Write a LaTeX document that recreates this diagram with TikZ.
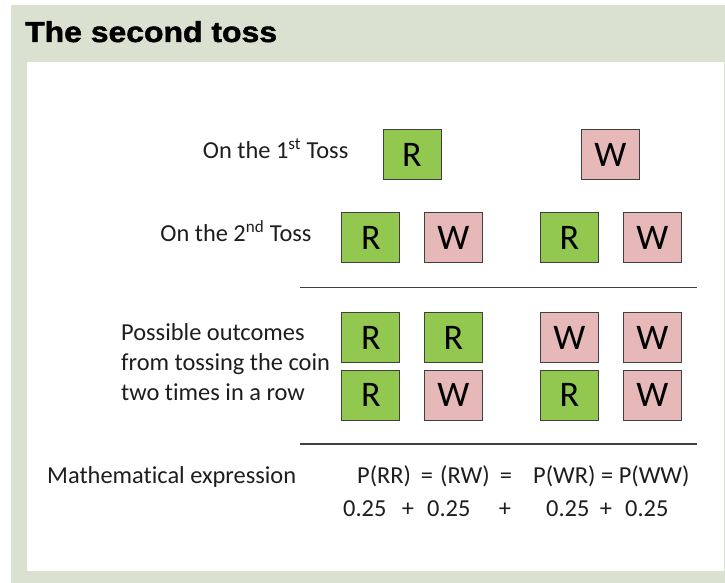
\documentclass[tikz,border=0pt]{standalone}
\usepackage{fontspec}
\setmainfont{Carlito}[Ligatures=NoCommon]
\newfontfamily\titlefont{Liberation Sans}[FakeBold=1.6]
\definecolor{panel}{RGB}{219,225,208}
\definecolor{boxgreen}{RGB}{146,200,80}
\definecolor{boxpink}{RGB}{230,185,184}
\definecolor{edge}{RGB}{64,64,64}
\definecolor{ink}{RGB}{30,30,30}
\tikzset{
  coin/.style={draw=edge, line width=0.9pt, minimum width=58pt, minimum height=50pt,
    inner sep=0pt, font=\fontsize{36}{36}\selectfont, text=black},
  rbox/.style={coin, fill=boxgreen},
  wbox/.style={coin, fill=boxpink},
  lbl/.style={font=\fontsize{24.4}{30}\selectfont, text=ink, inner sep=0pt},
  rule/.style={draw=edge, line width=1.2pt},
}
\begin{document}
\begin{tikzpicture}[x=1pt,y=-1pt]
\useasboundingbox (0,0) rectangle (725,583);
\fill[white] (0,0) rectangle (725,583);
\fill[panel] (11,5) rectangle (725,583);
\fill[white] (27,62) rectangle (724,571);
\node[anchor=base west, inner sep=0pt, text=black] (title) at (25,42)
  {\scalebox{1.14}[1.03]{\titlefont\bfseries\fontsize{28}{28}\selectfont The second toss}};

% labels
\node[lbl, anchor=base east] (l1) at (348.5,158.3) {On the 1\textsuperscript{st} Toss};
\node[lbl, anchor=base east] (l2) at (311.7,241.7) {On the 2\textsuperscript{nd} Toss};
\node[lbl, anchor=base west] (l3a) at (121,340) {Possible outcomes};
\node[lbl, anchor=base west] (l3b) at (121,370) {from tossing the coin};
\node[lbl, anchor=base west] (l3c) at (121,400) {two times in a row};
\node[lbl, anchor=base west] (l4) at (47,483) {Mathematical expression};

% row 1
\node[rbox] (a1) at (412,154.5) {R};
\node[wbox] (a2) at (610.5,154.5) {W};
% row 2
\node[rbox] (b1) at (370.9,237.5) {R};
\node[wbox] (b2) at (453.4,237.5) {W};
\node[rbox] (b3) at (569.5,237.5) {R};
\node[wbox] (b4) at (652.5,237.5) {W};
% rules
\coordinate (r1a) at (300,287.3);
\coordinate (r1b) at (697,287.3);
\draw[rule] (r1a) -- (r1b);
% row 3
\node[rbox] (c1) at (370.9,337.5) {R};
\node[rbox] (c2) at (453.4,337.5) {R};
\node[wbox] (c3) at (569.5,337.5) {W};
\node[wbox] (c4) at (652.5,337.5) {W};
% row 4
\node[rbox] (d1) at (370.9,395.2) {R};
\node[wbox] (d2) at (453.4,395.2) {W};
\node[rbox] (d3) at (569.5,395.2) {R};
\node[wbox] (d4) at (652.5,395.2) {W};
\coordinate (r2a) at (300,444);
\coordinate (r2b) at (697,444);
\draw[rule] (r2a) -- (r2b);

% math line 1
\node[lbl, anchor=base west] (p1) at (357,483) {P(RR)};
\node[lbl, anchor=base] (e1) at (427,483) {=};
\node[lbl, anchor=base west] (p2) at (440,483) {(RW)};
\node[lbl, anchor=base] (e2) at (506,483) {=};
\node[lbl, anchor=base west] (p3) at (533,483) {P(WR) = P(WW)};
% math line 2
\node[lbl, anchor=base west] (q1) at (343,516) {0.25};
\node[lbl, anchor=base] (s1) at (408,516) {+};
\node[lbl, anchor=base west] (q2) at (427,516) {0.25};
\node[lbl, anchor=base] (s2) at (505,516) {+};
\node[lbl, anchor=base west] (q3) at (546,516) {0.25};
\node[lbl, anchor=base] (s3) at (606,516) {+};
\node[lbl, anchor=base west] (q4) at (625,516) {0.25};
\end{tikzpicture}
\end{document}
